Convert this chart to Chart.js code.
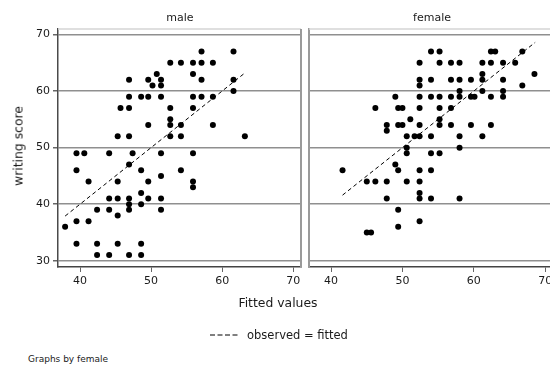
<!DOCTYPE html>
<html>
<head>
<meta charset="utf-8">
<script src="https://cdn.jsdelivr.net/npm/chart.js@4/dist/chart.umd.min.js"></script>
<style>
  html, body { margin: 0; padding: 0; background: #fff; overflow: hidden; }
  body { width: 550px; height: 367px; position: relative; font-family: "DejaVu Sans", sans-serif; color: #1a1a1a; }
  canvas { position: absolute; top: 0; }
  .lbl { position: absolute; white-space: nowrap; }
</style>
</head>
<body>
<canvas id="maleChart" width="306" height="295" style="left:0"></canvas>
<canvas id="femaleChart" width="265" height="295" style="left:300px"></canvas>

<div class="lbl" style="left:180px;top:17px;font-size:11px;transform:translate(-50%,-50%)">male</div>
<div class="lbl" style="left:432px;top:17px;font-size:11px;transform:translate(-50%,-50%)">female</div>
<div class="lbl" style="left:18px;top:146px;font-size:12.4px;transform:translate(-50%,-50%) rotate(-90deg)">writing score</div>
<div class="lbl" style="left:278px;top:302px;font-size:12.4px;transform:translate(-50%,-50%)">Fitted values</div>
<svg class="lbl" style="left:210px;top:331px" width="28" height="8"><line x1="0" y1="4" x2="28" y2="4" stroke="#000" stroke-width="1" stroke-dasharray="5,2.5"/></svg>
<div class="lbl" style="left:247px;top:335px;font-size:11.5px;transform:translateY(-50%)">observed = fitted</div>
<div class="lbl" style="left:28px;top:359px;font-size:9px;transform:translateY(-50%)">Graphs by female</div>

<script>
// writing score vs fitted values
const maleFitted = [
  57.1, 61.6,
  52.7, 54.2, 55.9, 57.1, 58.7,
  50.8, 55.9,
  46.9, 49.6, 51.4, 57.1, 61.6,
  50.2, 51.4,
  61.6,
  46.9, 48.6, 49.6, 51.4, 55.9, 57.1, 58.7,
  45.7, 46.9, 52.7, 55.9,
  52.7,
  49.6, 52.7, 54.2, 58.7,
  45.3, 46.9, 52.7, 54.2, 63.2,
  39.5, 40.6, 44.1, 47.4, 51.4, 55.9,
  46.9,
  39.5, 48.6, 54.2,
  51.4,
  41.2, 45.3, 49.6, 55.9,
  55.9,
  48.6,
  44.1, 45.3, 46.9, 49.6, 51.4,
  46.9, 48.6,
  42.4, 44.1, 46.9, 51.4,
  45.3,
  39.5, 41.2,
  37.9,
  39.5, 42.4, 45.3, 48.6,
  42.4, 44.1, 46.9, 48.6
];
const maleWrite = [
  67, 67,
  65, 65, 65, 65, 65,
  63, 63,
  62, 62, 62, 62, 62,
  61, 61,
  60,
  59, 59, 59, 59, 59, 59, 59,
  57, 57, 57, 57,
  55,
  54, 54, 54, 54,
  52, 52, 52, 52, 52,
  49, 49, 49, 49, 49, 49,
  47,
  46, 46, 46,
  45,
  44, 44, 44, 44,
  43,
  42,
  41, 41, 41, 41, 41,
  40, 40,
  39, 39, 39, 39,
  38,
  37, 37,
  36,
  33, 33, 33, 33,
  31, 31, 31, 31
];
const femaleFitted = [
  54.0, 55.2, 62.4, 63.0, 66.8,
  52.4, 55.2, 56.8, 58.0, 61.2, 62.4, 64.1, 65.8,
  61.2, 68.5,
  52.4, 54.0, 56.8, 58.0, 59.6, 61.2, 64.1,
  52.4, 66.8,
  58.0, 61.2, 64.1,
  49.0, 52.4, 54.0, 55.2, 56.8, 58.0, 59.6, 60.1, 62.4, 64.1,
  46.2, 49.4, 50.0, 52.4, 55.2, 56.8,
  51.1, 55.2,
  47.8, 49.4, 50.0, 52.4, 55.2, 56.8, 59.6, 62.4,
  47.8,
  50.6, 51.7, 52.4, 54.0, 58.0, 61.2,
  50.6, 58.0,
  50.6, 54.0, 55.2,
  49.0,
  41.6, 49.4, 52.4, 54.0,
  45.0, 46.2, 47.8, 50.6, 52.4,
  52.4,
  47.8, 52.4, 54.0, 58.0,
  49.4,
  52.4,
  49.4,
  45.0, 45.6
];
const femaleWrite = [
  67, 67, 67, 67, 67,
  65, 65, 65, 65, 65, 65, 65, 65,
  63, 63,
  62, 62, 62, 62, 62, 62, 62,
  61, 61,
  60, 60, 60,
  59, 59, 59, 59, 59, 59, 59, 59, 59, 59,
  57, 57, 57, 57, 57, 57,
  55, 55,
  54, 54, 54, 54, 54, 54, 54, 54,
  53,
  52, 52, 52, 52, 52, 52,
  50, 50,
  49, 49, 49,
  47,
  46, 46, 46, 46,
  44, 44, 44, 44, 44,
  42,
  41, 41, 41, 41,
  39,
  37,
  36,
  35, 35
];
// observed = fitted line, from smallest to largest fitted value
const maleFitRange = [37.9, 63.2];
const femaleFitRange = [41.6, 68.6];

const xTicks = [40, 50, 60, 70];
const yTicks = [30, 40, 50, 60, 70];

function makePanel(id, fitted, write, fitRange, showY) {
  const pts = fitted.map((x, i) => ({ x: x, y: write[i] }));
  const line = fitRange.map(v => ({ x: v, y: v }));
  const ctx = document.getElementById(id).getContext('2d');
  return new Chart(ctx, {
    type: 'scatter',
    data: {
      datasets: [{
        data: pts,
        pointRadius: 3,
        pointBackgroundColor: '#000',
        pointBorderWidth: 0
      }, {
        type: 'line',
        data: line,
        borderColor: '#000',
        borderWidth: 1,
        borderDash: [4, 3],
        pointRadius: 0,
        fill: false
      }]
    },
    options: {
      responsive: false,
      animation: false,
      events: [],
      layout: { padding: { top: 29, right: showY ? 5 : 12, left: 0, bottom: 0 } },
      plugins: { legend: { display: false }, tooltip: { enabled: false } },
      scales: {
        x: {
          type: 'linear',
          min: 36.9,
          max: 71.1,
          afterBuildTicks: s => { s.ticks = xTicks.map(v => ({ value: v })); },
          afterFit: s => { s.height = 28; },
          grid: { drawOnChartArea: false, drawTicks: true, tickLength: 5, tickColor: '#666' },
          border: { display: true, color: '#444', width: 1.5 },
          ticks: { color: '#1a1a1a', padding: 3, font: { family: 'DejaVu Sans', size: 11 } }
        },
        y: {
          type: 'linear',
          min: 28.9,
          max: 70.97,
          afterBuildTicks: s => { s.ticks = yTicks.map(v => ({ value: v })); },
          afterFit: s => { s.width = showY ? 58 : 9; },
          grid: { color: '#8f8f8f', lineWidth: 1.5, drawTicks: showY, tickLength: 5, tickColor: '#666' },
          border: { display: true, color: showY ? '#4a4a4a' : '#9a9a9a', width: showY ? 1.5 : 2 },
          ticks: { display: showY, color: '#1a1a1a', padding: 3, font: { family: 'DejaVu Sans', size: 11 } }
        }
      }
    },
    plugins: [{
      id: 'frame',
      beforeDatasetsDraw(chart) {
        const a = chart.chartArea, c = chart.ctx;
        c.save();
        c.strokeStyle = '#d4d4d4';
        c.lineWidth = 1.5;
        c.beginPath();
        c.moveTo(a.left, a.top);
        c.lineTo(a.right, a.top);
        c.stroke();
        if (showY) {
          c.strokeStyle = '#9a9a9a';
          c.lineWidth = 2;
          c.beginPath();
          c.moveTo(a.right, a.top);
          c.lineTo(a.right, a.bottom);
          c.stroke();
        }
        c.restore();
      }
    }]
  });
}

makePanel('maleChart', maleFitted, maleWrite, maleFitRange, true);
makePanel('femaleChart', femaleFitted, femaleWrite, femaleFitRange, false);
</script>
</body>
</html>
